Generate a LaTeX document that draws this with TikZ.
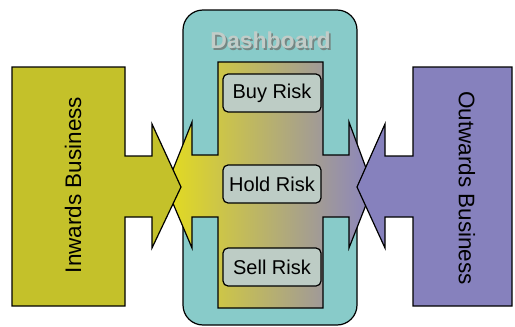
\documentclass[tikz,border=0pt]{standalone}
\usepackage{fontspec}
\setmainfont{Liberation Sans}
\usetikzlibrary{positioning}
\definecolor{dashteal}{HTML}{88CBC9}
\definecolor{inolive}{HTML}{C4C12A}
\definecolor{outlilac}{HTML}{8681BD}
\definecolor{gradyel}{HTML}{E4DC1E}
\definecolor{gradmid}{HTML}{BAB68E}
\definecolor{gradlil}{HTML}{8A84C0}
\definecolor{boxgray}{HTML}{BDCCC5}
\definecolor{titlegray}{HTML}{C2CCC8}
\definecolor{shadowgray}{HTML}{758784}

% embossed text: dark copy shifted down-right, light copy on top
\newcommand{\embossed}[1]{%
  \rlap{\hspace{1.8pt}\raisebox{-1.8pt}{\textcolor{shadowgray}{#1}}}%
  \textcolor{titlegray}{#1}}

\tikzset{
  outline/.style={draw=black, line width=1.2pt, line join=miter},
  riskbox/.style={outline, fill=boxgray, rounded corners=5pt,
    minimum width=98pt, minimum height=38pt, inner sep=0pt,
    font=\fontsize{20}{24}\selectfont},
  sidelabel/.style={font=\fontsize{22.5}{26}\selectfont},
  titlefont/.style={font=\fontsize{23}{27}\selectfont\bfseries}
}

\begin{document}
\begin{tikzpicture}[x=1pt, y=-1pt]

\useasboundingbox (0,0) rectangle (515,327);

% Dashboard frame
\fill[dashteal, rounded corners=20pt] (183,10) rectangle (357,325);
\draw[outline, rounded corners=20pt] (183,10) rectangle (357,325);

% Title
\node[titlefont] (title) at (270.5,41.5) {\embossed{Dashboard}};

% Shaded core with a double arrow through it
\shade[outline, left color=gradyel, middle color=gradmid, right color=gradlil]
  (218,62) -- (323,62) -- (323,155) -- (349,155) -- (349,122) -- (373,187)
  -- (349,248) -- (349,217) -- (323,217) -- (323,308) -- (218,308)
  -- (218,217) -- (192,217) -- (192,248) -- (166,187) -- (192,122)
  -- (192,155) -- (218,155) -- cycle;

% Risk stages
\node[riskbox] (buy)  at (272,93)  {Buy Risk};
\node[riskbox] (hold) at (272,184) {Hold Risk};
\node[riskbox] (sell) at (272,267) {Sell Risk};

% Inwards business, pointing right
\filldraw[outline, fill=inolive]
  (12,67) -- (125,67) -- (125,156) -- (152,156) -- (152,124) -- (181,187)
  -- (152,248) -- (152,217) -- (125,217) -- (125,306) -- (12,306) -- cycle;
\node[sidelabel, rotate=90] (inwards) at (73,185) {Inwards Business};

% Outwards business, pointing left
\filldraw[outline, fill=outlilac]
  (512,67) -- (413,67) -- (413,156) -- (385,156) -- (385,124) -- (357,187)
  -- (385,248) -- (385,217) -- (413,217) -- (413,306) -- (512,306) -- cycle;
\node[sidelabel, rotate=-90] (outwards) at (467,188) {Outwards Business};

\end{tikzpicture}
\end{document}
